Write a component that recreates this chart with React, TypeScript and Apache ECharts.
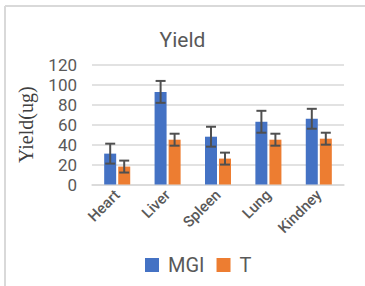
import React, { useEffect, useRef } from "react";
import * as echarts from "echarts";

const categories = ["Heart", "Liver", "Spleen", "Lung", "Kindney"];
const mgiValues = [31, 93, 48, 63, 66];
const mgiErrors = [10, 11, 10, 11, 10];
const tValues = [18, 45, 26, 45, 46];
const tErrors = [6, 6, 6, 6, 6];
const yTicks = { min: 0, max: 120, interval: 20 };

const GRAY = "#595959";

function errorSeries(name: string, values: number[], errors: number[], offset: number) {
  return {
    type: "custom",
    name: name + "-err",
    z: 10,
    silent: true,
    data: values.map((v, i) => [i, v - errors[i], v + errors[i]]),
    renderItem: (params: any, api: any) => {
      const x = api.value(0);
      const lo = api.coord([x, api.value(1)]);
      const hi = api.coord([x, api.value(2)]);
      const cx = lo[0] + offset;
      const cap = 5;
      const style = { stroke: "#505050", lineWidth: 2 };
      return {
        type: "group",
        children: [
          { type: "line", shape: { x1: cx, y1: lo[1], x2: cx, y2: hi[1] }, style },
          { type: "line", shape: { x1: cx - cap, y1: lo[1], x2: cx + cap, y2: lo[1] }, style },
          { type: "line", shape: { x1: cx - cap, y1: hi[1], x2: cx + cap, y2: hi[1] }, style },
        ],
      };
    },
  };
}

export default function App() {
  const ref = useRef<HTMLDivElement>(null);
  useEffect(() => {
    if (!ref.current) return;
    const chart = echarts.init(ref.current, undefined, { renderer: "svg" });
    chart.setOption({
      animation: false,
      backgroundColor: "#ffffff",
      title: {
        text: "Yield",
        left: "center",
        top: 24,
        textStyle: { fontFamily: "Roboto", fontSize: 21, fontWeight: "normal", color: GRAY },
      },
      legend: {
        data: ["MGI", "T"],
        bottom: 6,
        left: 140,
        itemWidth: 14,
        itemHeight: 14,
        itemGap: 12,
        icon: "rect",
        textStyle: { fontFamily: "Roboto", fontSize: 20, color: GRAY, padding: [0, 0, 0, 4] },
      },
      grid: { left: 92, right: 21, top: 65, bottom: 101.5, containLabel: false },
      xAxis: {
        type: "category",
        data: categories,
        axisLine: { show: true, lineStyle: { color: "#d9d9d9", width: 1.5 } },
        axisTick: { show: false },
        axisLabel: {
          rotate: 45,
          margin: 8,
          fontFamily: "Roboto",
          fontSize: 15,
          fontWeight: 500,
          color: GRAY,
        },
      },
      yAxis: {
        type: "value",
        min: yTicks.min,
        max: yTicks.max,
        interval: yTicks.interval,
        name: "Yield(ug)",
        nameLocation: "middle",
        nameGap: 56,
        nameTextStyle: { fontFamily: "Liberation Serif", fontSize: 20, color: "#404040" },
        axisLine: { show: false },
        axisTick: { show: false },
        axisLabel: { fontFamily: "Roboto", fontSize: 17, lineHeight: 17, color: GRAY, margin: 15 },
        splitLine: { lineStyle: { color: "#d9d9d9", width: 1.5 } },
      },
      graphic: [
        { type: "line", shape: { x1: 5, y1: 6, x2: 365, y2: 6 }, style: { stroke: "#d9d9d9", lineWidth: 2 } },
        { type: "line", shape: { x1: 5, y1: 6, x2: 5, y2: 286 }, style: { stroke: "#d9d9d9", lineWidth: 2 } },
      ],
      series: [
        { name: "MGI", type: "bar", data: mgiValues, barWidth: 12, barGap: "17%", itemStyle: { color: "#4472c4" } },
        { name: "T", type: "bar", data: tValues, barWidth: 12, barGap: "17%", itemStyle: { color: "#ed7d31" } },
        errorSeries("MGI", mgiValues, mgiErrors, -7),
        errorSeries("T", tValues, tErrors, 7),
      ],
    });
    return () => chart.dispose();
  }, []);
  return <div ref={ref} style={{ position: "fixed", left: 0, top: 0, width: 365, height: 286 }} />;
}
